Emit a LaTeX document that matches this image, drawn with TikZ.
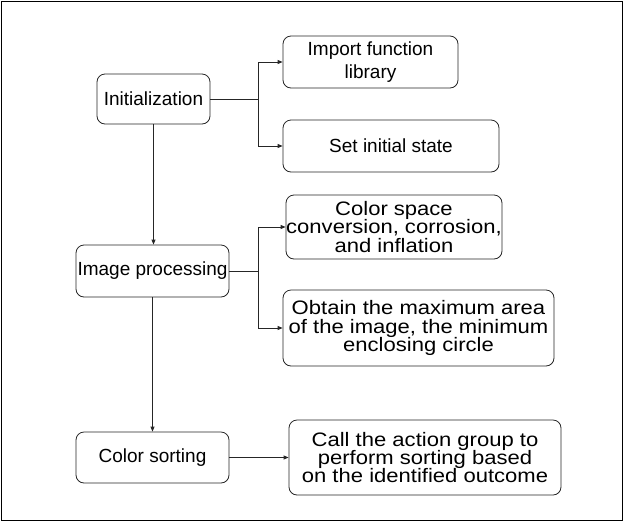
\documentclass[tikz,border=0pt]{standalone}
\usepackage{fontspec}
\setmainfont{Liberation Sans}
\newfontfamily\widefont[FakeStretch=1.13]{Liberation Sans}
\usetikzlibrary{arrows.meta}
\begin{document}
\begin{tikzpicture}[x=1pt,y=-1pt,
  box/.style={draw=black!85, line width=0.8pt, rounded corners=8pt, align=center, inner sep=0pt,
    font=\fontsize{19}{23}\selectfont},
  bigbox/.style={box, font=\widefont\fontsize{19.5}{18.3}\selectfont},
  conn/.style={draw=black!85, line width=0.8pt},
  arr/.style={conn, -{Triangle[length=5pt,width=4pt]}}]
\useasboundingbox (0,0) rectangle (627,523);
\draw[line width=1pt] (1,1) rectangle (622,520);
\node[box, minimum width=113pt, minimum height=50pt] (init) at (153.5,99) {Initialization};
\node[box, minimum width=175pt, minimum height=52pt] (imp) at (370.5,62) {Import function\\library};
\node[box, minimum width=216pt, minimum height=52pt] (set) at (391,146) {Set initial state};
\node[bigbox, minimum width=216pt, minimum height=64pt] (csc) at (394,227) {Color space\\conversion, corrosion,\\and inflation};
\node[box, minimum width=153pt, minimum height=52pt] (imgp) at (152.5,271) {Image processing};
\node[bigbox, minimum width=271pt, minimum height=76pt] (obt) at (418.5,328) {Obtain the maximum area\\of the image, the minimum\\enclosing circle};
\node[box, minimum width=153pt, minimum height=51pt] (cs) at (152.5,457.5) {Color sorting};
\node[bigbox, minimum width=272pt, minimum height=75pt] (call) at (425,457.5) {Call the action group to\\perform sorting based\\on the identified outcome};
\coordinate (j1) at (258,99);
\coordinate (j2) at (258,271);
\draw[conn] (init.east) -- (j1);
\draw[arr] (j1) |- (imp.west);
\draw[arr] (j1) |- (set.west);
\draw[conn] (imgp.east) -- (j2);
\draw[arr] (j2) |- (csc.west);
\draw[arr] (j2) |- (obt.west);
\draw[arr] (init.south) -- (init.south |- imgp.north);
\draw[arr] (imgp.south) -- (cs.north);
\draw[arr] (cs.east) -- (call.west);
\end{tikzpicture}
\end{document}
